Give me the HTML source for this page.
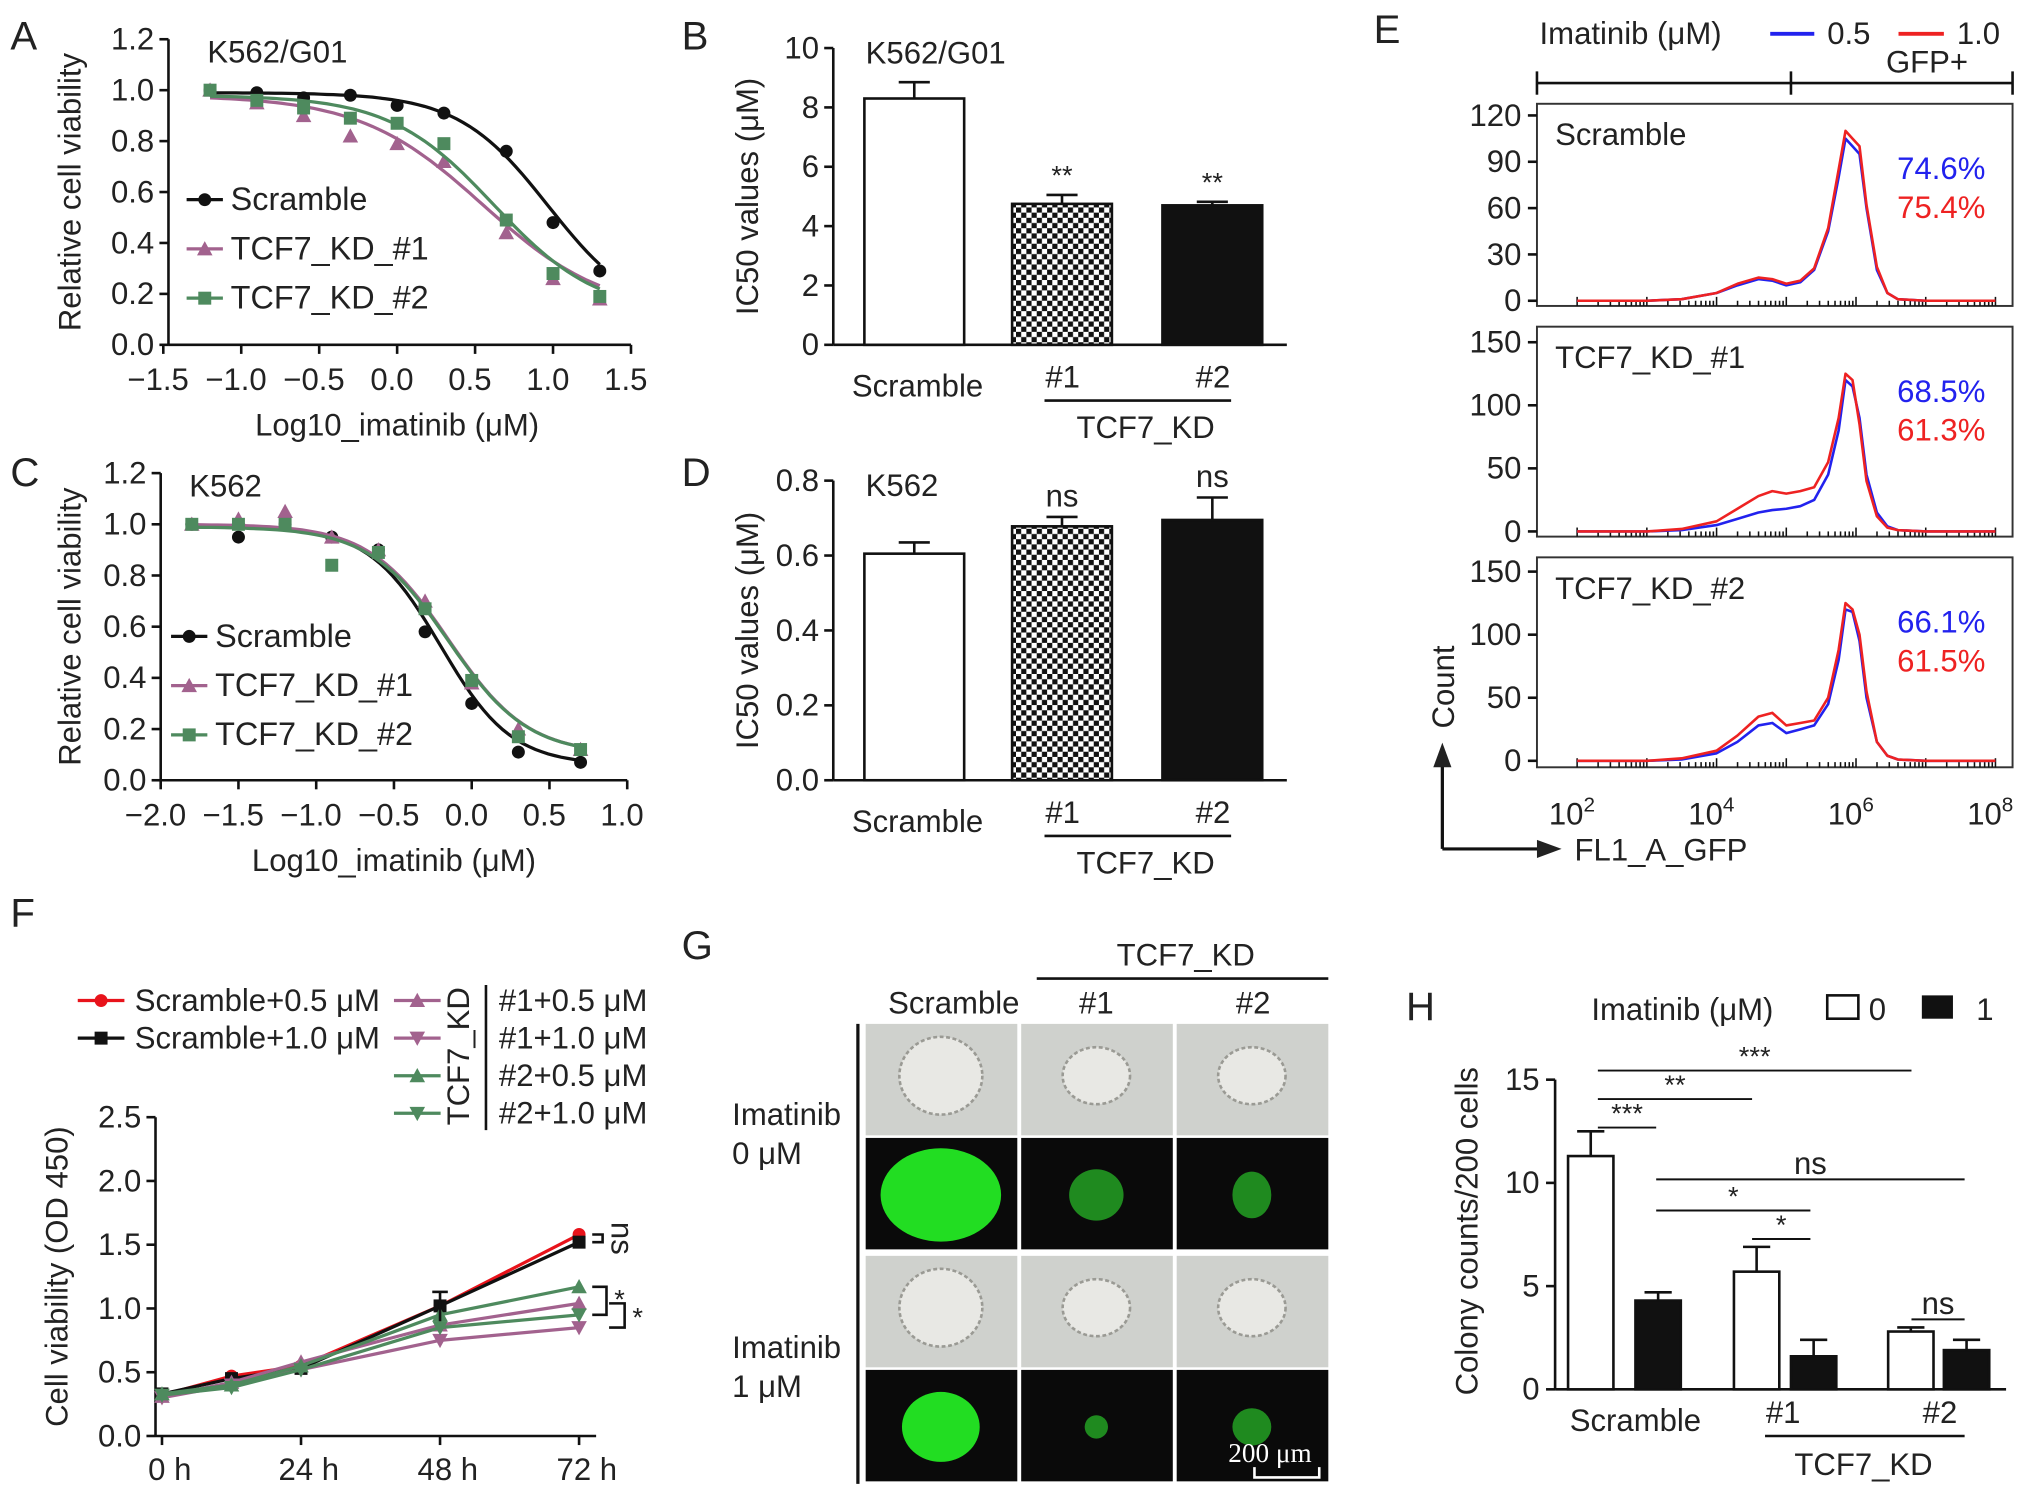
<!DOCTYPE html>
<html><head><meta charset="utf-8"><style>
html,body{margin:0;padding:0;background:#fff}
svg{display:block}
text{font-family:"Liberation Sans",Arial,sans-serif;fill:#222}
</style></head><body>
<svg id="fig" xmlns="http://www.w3.org/2000/svg" width="2032" height="1497" viewBox="0 0 1568 1155"></svg>
<script>
// ---------- DATA ----------
const doseA = [-1.2,-0.9,-0.6,-0.3,0,0.3,0.7,1.0,1.3];
const aScramble = [1.0,0.99,0.97,0.98,0.94,0.91,0.76,0.48,0.29];
const aKD1 = [1.0,0.95,0.90,0.82,0.79,0.72,0.44,0.26,0.18];
const aKD2 = [1.0,0.96,0.93,0.89,0.87,0.79,0.49,0.28,0.19];
const aFitScr = [0.99,0.10,0.97,1.5];
const aFitKD1 = [0.98,0.12,0.55,1.1];
const aFitKD2 = [0.98,0.12,0.62,1.3];
const doseC = [-1.8,-1.5,-1.2,-0.9,-0.6,-0.3,0,0.3,0.7];
const cScramble = [1.0,0.95,1.0,0.95,0.9,0.58,0.30,0.11,0.07];
const cKD1 = [1.0,1.02,1.05,0.95,0.90,0.70,0.38,0.20,0.12];
const cKD2 = [1.0,1.0,1.0,0.84,0.89,0.67,0.39,0.17,0.12];
const cFitScr = [0.99,0.06,-0.2,1.9];
const cFitKD1 = [1.0,0.10,-0.15,1.7];
const cFitKD2 = [0.99,0.10,-0.15,1.7];
const bCats = ["Scramble","#1","#2"];
const bVals = [8.3,4.75,4.7];
const bErr = [0.55,0.3,0.12];
const dVals = [0.605,0.678,0.695];
const dErr = [0.03,0.025,0.06];
const eLog = [2,3,3.5,4,4.3,4.6,4.8,5.0,5.2,5.4,5.6,5.75,5.85,5.95,6.05,6.15,6.3,6.45,6.6,7,8];
const eScrBlue = [0,0,1,5,10,14,13,10,12,20,45,80,105,100,95,60,20,5,1,0,0];
const eScrRed = [0,0,1,5,11,15,14,11,13,21,47,85,110,105,100,62,22,5,1,0,0];
const eKD1Blue = [0,0,1,5,10,15,17,18,20,25,45,80,120,115,90,45,15,4,1,0,0];
const eKD1Red = [0,0,2,8,18,28,32,30,32,35,55,90,125,120,85,40,12,3,1,0,0];
const eKD2Blue = [0,0,1,6,15,28,30,22,25,28,45,80,120,118,95,50,15,4,1,0,0];
const eKD2Red = [0,0,2,8,20,35,38,28,30,32,50,88,125,120,100,55,15,4,1,0,0];
const fTime = [0,12,24,48,72];
const fScr05 = [0.32,0.47,0.55,1.02,1.58];
const fScr10 = [0.33,0.45,0.53,1.02,1.52];
const fKD1_05 = [0.31,0.42,0.58,0.87,1.04];
const fKD1_10 = [0.30,0.40,0.52,0.75,0.85];
const fKD2_05 = [0.33,0.40,0.55,0.95,1.17];
const fKD2_10 = [0.32,0.38,0.52,0.85,0.95];
const hWhite = [11.3,5.7,2.8];
const hWhiteErr = [1.2,1.2,0.2];
const hBlack = [4.3,1.6,1.9];
const hBlackErr = [0.4,0.8,0.5];

// ---------- HELPERS ----------
const svg = document.getElementById('fig');
const NS = 'http://www.w3.org/2000/svg';
const FS = 24;
function el(tag, attrs, name, parent){
  const e = document.createElementNS(NS, tag);
  for (const k in attrs) e.setAttribute(k, attrs[k]);
  
  
  (parent||svg).appendChild(e);
  return e;
}
function txt(x,y,s,name,size,anchor,extra){
  const a = Object.assign({x:x,y:y,'font-size':size||FS,'text-anchor':anchor||'start'}, extra||{});
  const t = el('text', a, name);
  t.textContent = s;
  return t;
}
function line(x1,y1,x2,y2,name,w,c){ return el('line',{x1:x1,y1:y1,x2:x2,y2:y2,stroke:c||'#111','stroke-width':w||2},name); }
function marker(x,y,shape,color,name){
  if(shape==='circle') return el('circle',{cx:x,cy:y,r:5,fill:color},name);
  if(shape==='square') return el('rect',{x:x-5,y:y-5,width:10,height:10,fill:color},name);
  if(shape==='tri') return el('polygon',{points:`${x},${y-6} ${x-6},${y+5} ${x+6},${y+5}`,fill:color},name);
  if(shape==='tridown') return el('polygon',{points:`${x},${y+6} ${x-6},${y-5} ${x+6},${y-5}`,fill:color},name);
}
function fourPL(x,p){ return p[1]+(p[0]-p[1])/(1+Math.pow(10,(x-p[2])*p[3])); }

// ---------- Dose response panels (A, C) ----------
function dosePanel(o){
  const X = v => o.x0 + (v-o.xmin)*o.xs;
  const Y = v => o.y0 - v*o.ys;
  line(o.axX, Y(0), o.axX, Y(1.2), o.id+'-y-axis');
  line(o.axX, Y(0), X(o.xmax), Y(0), o.id+'-x-axis');
  for(let i=0;i<=6;i++){ const v=i*0.2; line(o.axX-7,Y(v),o.axX,Y(v),o.id+'-y-tick'); txt(o.axX-11,Y(v)+8,v.toFixed(1),o.id+'-y-tick-label',FS,'end'); }
  for(let v=o.xmin; v<=o.xmax+1e-6; v+=0.5){ line(X(v),Y(0),X(v),Y(0)+7,o.id+'-x-tick'); txt(X(v)-4,Y(0)+35,(v<0?'\u2212':'')+Math.abs(v).toFixed(1),o.id+'-x-tick-label',FS,'middle'); }
  txt(o.x0+(o.xmax-o.xmin)*o.xs/2, Y(0)+70, 'Log10_imatinib (\u03bcM)', o.id+'-x-axis-title', FS,'middle');
  txt(62, Y(0.6), 'Relative cell viability', o.id+'-y-axis-title', FS,'middle',{transform:`rotate(-90 62 ${Y(0.6)})`});
  txt(o.titleX, Y(1.2)+18, o.title, o.id+'-title', FS);
  const series = [[o.s1,o.f1,'#111','circle','Scramble'],[o.s2,o.f2,'#a2628e','tri','TCF7_KD_#1'],[o.s3,o.f3,'#4e8a5e','square','TCF7_KD_#2']];
  series.forEach((s,si)=>{
    let d='';
    for(let k=0;k<=60;k++){ const v=o.dose[0]+(o.dose[o.dose.length-1]-o.dose[0])*k/60; d+=(k?'L':'M')+X(v).toFixed(1)+','+Y(fourPL(v,s[1])).toFixed(1); }
    el('path',{d:d,fill:'none',stroke:s[2],'stroke-width':2.5},o.id+'-fit-curve-'+si);
    o.dose.forEach((dv,i)=>marker(X(dv),Y(s[0][i]),s[3],s[2],o.id+'-point'));
    const ly = o.legY + si*38;
    line(o.legX-14,ly,o.legX+14,ly,o.id+'-legend-line',2.5,s[2]);
    marker(o.legX,ly,s[3],s[2],o.id+'-legend-marker');
    txt(o.legX+20,ly+8,s[4],o.id+'-legend-entry',25);
  });
}
dosePanel({id:'panel-a',x0:126,xmin:-1.5,xmax:1.5,xs:120.3,axX:130,y0:266,ys:196.5,dose:doseA,s1:aScramble,s2:aKD1,s3:aKD2,f1:aFitScr,f2:aFitKD1,f3:aFitKD2,title:'K562/G01',titleX:160,legX:158,legY:154});
dosePanel({id:'panel-c',x0:124,xmin:-2.0,xmax:1.0,xs:120,axX:124,y0:602,ys:197.5,dose:doseC,s1:cScramble,s2:cKD1,s3:cKD2,f1:cFitScr,f2:cFitKD1,f3:cFitKD2,title:'K562',titleX:146,legX:146,legY:491});

// ---------- Bar panels (B, D) ----------
function checker(){
  const defs = el('defs',{},'defs');
  const p = el('pattern',{id:'chk',width:8,height:8,patternUnits:'userSpaceOnUse'},'checker-pattern',defs);
  el('rect',{x:0,y:0,width:8,height:8,fill:'#fff'},'chk-bg',p);
  el('rect',{x:0,y:0,width:4,height:4,fill:'#111'},'chk-a',p);
  el('rect',{x:4,y:4,width:4,height:4,fill:'#111'},'chk-b',p);
}
checker();
function barPanel(o){
  const Y = v => o.y0 - v*o.ys;
  line(643,Y(0),643,Y(o.ymax),o.id+'-y-axis');
  line(643,Y(0),993,Y(0),o.id+'-x-axis');
  o.ticks.forEach(v=>{ line(636,Y(v),643,Y(v),o.id+'-y-tick'); txt(632,Y(v)+8,o.fmt(v),o.id+'-y-tick-label',FS,'end'); });
  txt(585,Y(o.ymax/2),'IC50 values (\u03bcM)',o.id+'-y-axis-title',FS,'middle',{transform:`rotate(-90 585 ${Y(o.ymax/2)})`});
  txt(668,Y(o.ymax)+12,o.title,o.id+'-title',FS);
  const xs=[667,781,897], fills=['#fff','url(#chk)','#111'];
  o.vals.forEach((v,i)=>{
    el('rect',{x:xs[i],y:Y(v),width:77,height:Y(0)-Y(v),fill:fills[i],stroke:'#111','stroke-width':2},o.id+'-bar-'+i);
    const cx=xs[i]+38.5;
    line(cx,Y(v),cx,Y(v+o.err[i]),o.id+'-error-bar');
    line(cx-12,Y(v+o.err[i]),cx+12,Y(v+o.err[i]),o.id+'-error-cap');
    if(o.sig[i]) txt(cx,Y(v+o.err[i])-8,o.sig[i],o.id+'-significance',o.sig[i]==='ns'?FS:21,'middle');
  });
  txt(708,Y(0)+40,bCats[0],o.id+'-x-label',FS,'middle');
  txt(820,Y(0)+33,bCats[1],o.id+'-x-label',FS,'middle');
  txt(936,Y(0)+33,bCats[2],o.id+'-x-label',FS,'middle');
  line(806,Y(0)+43,950,Y(0)+43,o.id+'-group-line');
  txt(884,Y(0)+72,'TCF7_KD',o.id+'-group-label',FS,'middle');
}
barPanel({id:'panel-b',y0:266,ys:22.9,ymax:10,ticks:[0,2,4,6,8,10],fmt:v=>String(v),vals:bVals,err:bErr,sig:['','**','**'],title:'K562/G01'});
barPanel({id:'panel-d',y0:602,ys:289,ymax:0.8,ticks:[0,0.2,0.4,0.6,0.8],fmt:v=>v.toFixed(1),vals:dVals,err:dErr,sig:['','ns','ns'],title:'K562'});

// ---------- Panel E ----------
const EX = v => 1217 + (v-2)*53.8;
txt(1188,34,'Imatinib (\u03bcM)','panel-e-legend-title',FS);
line(1366,26,1400,26,'panel-e-legend-blue',3,'#2222ee');
txt(1410,34,'0.5','panel-e-legend-entry',FS);
line(1465,26,1500,26,'panel-e-legend-red',3,'#ee2222');
txt(1510,34,'1.0','panel-e-legend-entry',FS);
txt(1487,56,'GFP+','panel-e-gate-label',FS,'middle');
line(1186,64,1553,64,'panel-e-gate-line');
line(1186,55,1186,73,'panel-e-gate-tick'); line(1382,55,1382,73,'panel-e-gate-tick'); line(1553,55,1553,73,'panel-e-gate-tick');
const eBoxes = [
  {top:80,bot:236,y0:232,ymax:120,yt:89,ticks:[0,30,60,90,120],name:'Scramble',b:eScrBlue,r:eScrRed,pb:'74.6%',pr:'75.4%'},
  {top:252,bot:414,y0:410,ymax:150,yt:264,ticks:[0,50,100,150],name:'TCF7_KD_#1',b:eKD1Blue,r:eKD1Red,pb:'68.5%',pr:'61.3%'},
  {top:430,bot:592,y0:587,ymax:150,yt:441,ticks:[0,50,100,150],name:'TCF7_KD_#2',b:eKD2Blue,r:eKD2Red,pb:'66.1%',pr:'61.5%'}];
eBoxes.forEach((bx,bi)=>{
  el('rect',{x:1186,y:bx.top,width:367,height:bx.bot-bx.top,fill:'none',stroke:'#333','stroke-width':1.5},'panel-e-histogram-box-'+bi);
  const Y = v => bx.y0 - v*(bx.y0-bx.yt)/bx.ymax;
  bx.ticks.forEach(v=>{ line(1179,Y(v),1186,Y(v),'panel-e-y-tick'); txt(1174,Y(v)+8,String(v),'panel-e-y-tick-label',FS,'end'); });
  for(let d=2; d<=8; d++){ for(let m=1;m<10;m++){ const xv=EX(d+Math.log10(m)); if(xv>1553) break; line(xv,bx.bot,xv,bx.bot-(m===1?7:4),'panel-e-x-tick',1.2); } }
  [[bx.b,'#2222ee'],[bx.r,'#ee2222']].forEach((s,si)=>{
    let d=''; eLog.forEach((lv,i)=>{ d+=(i?'L':'M')+EX(lv).toFixed(1)+','+Y(s[0][i]).toFixed(1); });
    el('path',{d:d,fill:'none',stroke:s[1],'stroke-width':2,'stroke-linejoin':'round'},'panel-e-histogram-'+(si?'red':'blue'));
  });
  txt(1200,bx.top+32,bx.name,'panel-e-sample-label',FS);
  txt(1532,bx.top+58,bx.pb,'panel-e-percent-blue',FS,'end',{style:'fill:#2222ee'});
  txt(1532,bx.top+88,bx.pr,'panel-e-percent-red',FS,'end',{style:'fill:#ee2222'});
});
[2,4,6,8].forEach(p=>{ const t=txt(EX(p)-4,636,'10','panel-e-x-tick-label',FS,'middle'); const s=document.createElementNS(NS,'tspan'); s.setAttribute('dy','-10'); s.setAttribute('font-size','16'); s.textContent=String(p); t.appendChild(s); });
line(1113,655,1113,585,'panel-e-count-arrow',2.5); el('polygon',{points:'1113,573 1106,592 1120,592',fill:'#222'},'panel-e-count-arrowhead');
line(1113,655,1190,655,'panel-e-gfp-arrow',2.5); el('polygon',{points:'1205,655 1186,648 1186,662',fill:'#222'},'panel-e-gfp-arrowhead');
txt(1122,530,'Count','panel-e-y-axis-title',FS,'middle',{transform:'rotate(-90 1122 530)'});
txt(1215,664,'FL1_A_GFP','panel-e-x-axis-title',FS);

// ---------- Panel F ----------
const FX = v => 125 + v*4.47;
const FY = v => 1108 - v*98.4;
line(120,FY(0),120,FY(2.5),'panel-f-y-axis'); line(120,FY(0),460,FY(0),'panel-f-x-axis');
[0,0.5,1.0,1.5,2.0,2.5].forEach(v=>{ line(113,FY(v),120,FY(v),'panel-f-y-tick'); txt(109,FY(v)+8,v.toFixed(1),'panel-f-y-tick-label',FS,'end'); });
[0,24,48,72].forEach(v=>{ line(FX(v),FY(0),FX(v),FY(0)+7,'panel-f-x-tick'); txt(FX(v)+6,FY(0)+34,v+' h','panel-f-x-tick-label',FS,'middle'); });
txt(52,985,'Cell viability (OD 450)','panel-f-y-axis-title',FS,'middle',{transform:'rotate(-90 52 985)'});
const fSeries=[[fScr05,'#e8131b','circle'],[fScr10,'#111','square'],[fKD1_05,'#a2628e','tri'],[fKD1_10,'#a2628e','tridown'],[fKD2_05,'#4e8a5e','tri'],[fKD2_10,'#4e8a5e','tridown']];
fSeries.forEach((s,si)=>{
  let d=''; fTime.forEach((t,i)=>{ d+=(i?'L':'M')+FX(t)+','+FY(s[0][i]); });
  el('path',{d:d,fill:'none',stroke:s[1],'stroke-width':2.5},'panel-f-line-'+si);
  fTime.forEach((t,i)=>marker(FX(t),FY(s[0][i]),s[2],s[1],'panel-f-point'));
});
line(FX(48),FY(1.13),FX(48),FY(0.9),'panel-f-error-bar'); line(FX(48)-6,FY(1.13),FX(48)+6,FY(1.13),'panel-f-error-cap');
el('path',{d:`M457,${FY(1.58)} H465 V${FY(1.52)} H457`,fill:'none',stroke:'#111','stroke-width':2},'panel-f-bracket');
txt(472,FY(1.55),'ns','panel-f-significance',FS,'middle',{transform:`rotate(90 472 ${FY(1.55)})`});
el('path',{d:`M457,${FY(1.17)} H468 V${FY(0.95)} H457`,fill:'none',stroke:'#111','stroke-width':2},'panel-f-bracket');
txt(474,FY(1.06)+6,'*','panel-f-significance',21);
el('path',{d:`M470,${FY(1.04)} H482 V${FY(0.85)} H470`,fill:'none',stroke:'#111','stroke-width':2},'panel-f-bracket');
txt(488,FY(0.92)+6,'*','panel-f-significance',21);
const fLeg=[[72,772,'#e8131b','circle','Scramble+0.5 \u03bcM'],[72,801,'#111','square','Scramble+1.0 \u03bcM'],[316,772,'#a2628e','tri',''],[316,801,'#a2628e','tridown',''],[316,830,'#4e8a5e','tri',''],[316,859,'#4e8a5e','tridown','']];
fLeg.forEach(l=>{ line(l[0]-12,l[1],l[0]+24,l[1],'panel-f-legend-line',2.5,l[2]); marker(l[0]+6,l[1],l[3],l[2],'panel-f-legend-marker'); if(l[4]) txt(l[0]+32,l[1]+8,l[4],'panel-f-legend-entry',FS); });
txt(362,815,'TCF7_KD','panel-f-legend-group',FS,'middle',{transform:'rotate(-90 362 815)'});
line(375,760,375,872,'panel-f-legend-divider');
['#1+0.5 \u03bcM','#1+1.0 \u03bcM','#2+0.5 \u03bcM','#2+1.0 \u03bcM'].forEach((s,i)=>txt(385,780+i*29,s,'panel-f-legend-entry',FS));

// ---------- Panel G ----------
txt(736,782,'Scramble','panel-g-col-label',FS,'middle');
txt(846,782,'#1','panel-g-col-label',FS,'middle');
txt(967,782,'#2','panel-g-col-label',FS,'middle');
txt(915,745,'TCF7_KD','panel-g-group-label',FS,'middle');
line(800,755,1025,755,'panel-g-group-line');
line(662,790,662,1145,'panel-g-row-divider',2.5);
txt(565,868,'Imatinib','panel-g-row-label',FS); txt(565,898,'0 \u03bcM','panel-g-row-label',FS);
txt(565,1048,'Imatinib','panel-g-row-label',FS); txt(565,1078,'1 \u03bcM','panel-g-row-label',FS);
const gCols=[668,788,908], gRows=[[790,878,'bf'],[878,966,'gfp0'],[969,1057,'bf'],[1057,1145,'gfp1']];
const gfpSize=[[62,40],[28,22],[20,20],[40,30],[12,10],[20,16]];
gRows.forEach((r,ri)=>gCols.forEach((c,ci)=>{
  const cx=c+58, cy=(r[0]+r[1])/2;
  if(r[2]==='bf'){ el('rect',{x:c,y:r[0],width:117,height:r[1]-r[0]-2,fill:'#cfd1cd'},'panel-g-brightfield-image');
    el('ellipse',{cx:cx,cy:cy-4,rx:ci?26:32,ry:ci?22:30,fill:'#e8e8e4',stroke:'#9a9a94','stroke-width':2,'stroke-dasharray':'3 2'},'panel-g-colony'); }
  else { el('rect',{x:c,y:r[0],width:117,height:r[1]-r[0]-2,fill:'#0a0a0a'},'panel-g-fluorescence-image');
    const s=gfpSize[(ri===1?0:3)+ci]; el('ellipse',{cx:cx,cy:cy,rx:s[0]*0.75,ry:s[1]*0.9,fill:ci?'#1f8a1f':'#22dd22'},'panel-g-gfp-colony'); }
}));
txt(980,1128,'200 \u03bcm','panel-g-scale-label',21,'middle',{style:'fill:#fff;font-family:Liberation Serif,serif'});
el('path',{d:'M968,1132 V1140 H1018 V1132',fill:'none',stroke:'#fff','stroke-width':2},'panel-g-scale-bar');

// ---------- Panel H ----------
const HY = v => 1072 - v*15.93;
line(1200,HY(0),1200,HY(15),'panel-h-y-axis'); line(1200,HY(0),1548,HY(0),'panel-h-x-axis');
[0,5,10,15].forEach(v=>{ line(1193,HY(v),1200,HY(v),'panel-h-y-tick'); txt(1188,HY(v)+8,String(v),'panel-h-y-tick-label',FS,'end'); });
txt(1140,950,'Colony counts/200 cells','panel-h-y-axis-title',FS,'middle',{transform:'rotate(-90 1140 950)'});
const hwx=[1210,1338,1457], hbx=[1262,1382,1500];
hWhite.forEach((v,i)=>{
  el('rect',{x:hwx[i],y:HY(v),width:35,height:HY(0)-HY(v),fill:'#fff',stroke:'#111','stroke-width':2},'panel-h-bar-untreated');
  line(hwx[i]+17.5,HY(v),hwx[i]+17.5,HY(v+hWhiteErr[i]),'panel-h-error-bar'); line(hwx[i]+7,HY(v+hWhiteErr[i]),hwx[i]+28,HY(v+hWhiteErr[i]),'panel-h-error-cap');
  el('rect',{x:hbx[i],y:HY(hBlack[i]),width:35,height:HY(0)-HY(hBlack[i]),fill:'#111',stroke:'#111','stroke-width':2},'panel-h-bar-treated');
  line(hbx[i]+17.5,HY(hBlack[i]),hbx[i]+17.5,HY(hBlack[i]+hBlackErr[i]),'panel-h-error-bar'); line(hbx[i]+7,HY(hBlack[i]+hBlackErr[i]),hbx[i]+28,HY(hBlack[i]+hBlackErr[i]),'panel-h-error-cap');
});
txt(1262,1104,'Scramble','panel-h-x-label',FS,'middle');
txt(1376,1098,'#1','panel-h-x-label',FS,'middle'); txt(1497,1098,'#2','panel-h-x-label',FS,'middle');
line(1362,1108,1516,1108,'panel-h-group-line'); txt(1438,1138,'TCF7_KD','panel-h-group-label',FS,'middle');
txt(1228,787,'Imatinib (\u03bcM)','panel-h-legend-title',FS);
el('rect',{x:1410,y:768,width:24,height:18,fill:'#fff',stroke:'#111','stroke-width':2},'panel-h-legend-swatch-0'); txt(1442,787,'0','panel-h-legend-entry',FS);
el('rect',{x:1483,y:768,width:24,height:18,fill:'#111'},'panel-h-legend-swatch-1'); txt(1525,787,'1','panel-h-legend-entry',FS);
[[1233,1475,826,'***'],[1233,1352,848,'**'],[1233,1278,870,'***'],[1278,1516,910,'ns'],[1278,1397,934,'*'],[1352,1397,956,'*'],[1475,1516,1018,'ns']].forEach(s=>{
  line(s[0],s[2],s[1],s[2],'panel-h-comparison-line',1.5); txt((s[0]+s[1])/2,s[2]-4,s[3],'panel-h-significance',s[3]==='ns'?FS:21,'middle');
});

// ---------- Panel letters ----------
[['A',8,38],['B',526,38],['C',8,375],['D',526,375],['E',1060,33],['F',8,715],['G',526,740],['H',1085,787]].forEach(p=>txt(p[1],p[2],p[0],'panel-letter-'+p[0].toLowerCase(),31));
</script>
</body></html>
